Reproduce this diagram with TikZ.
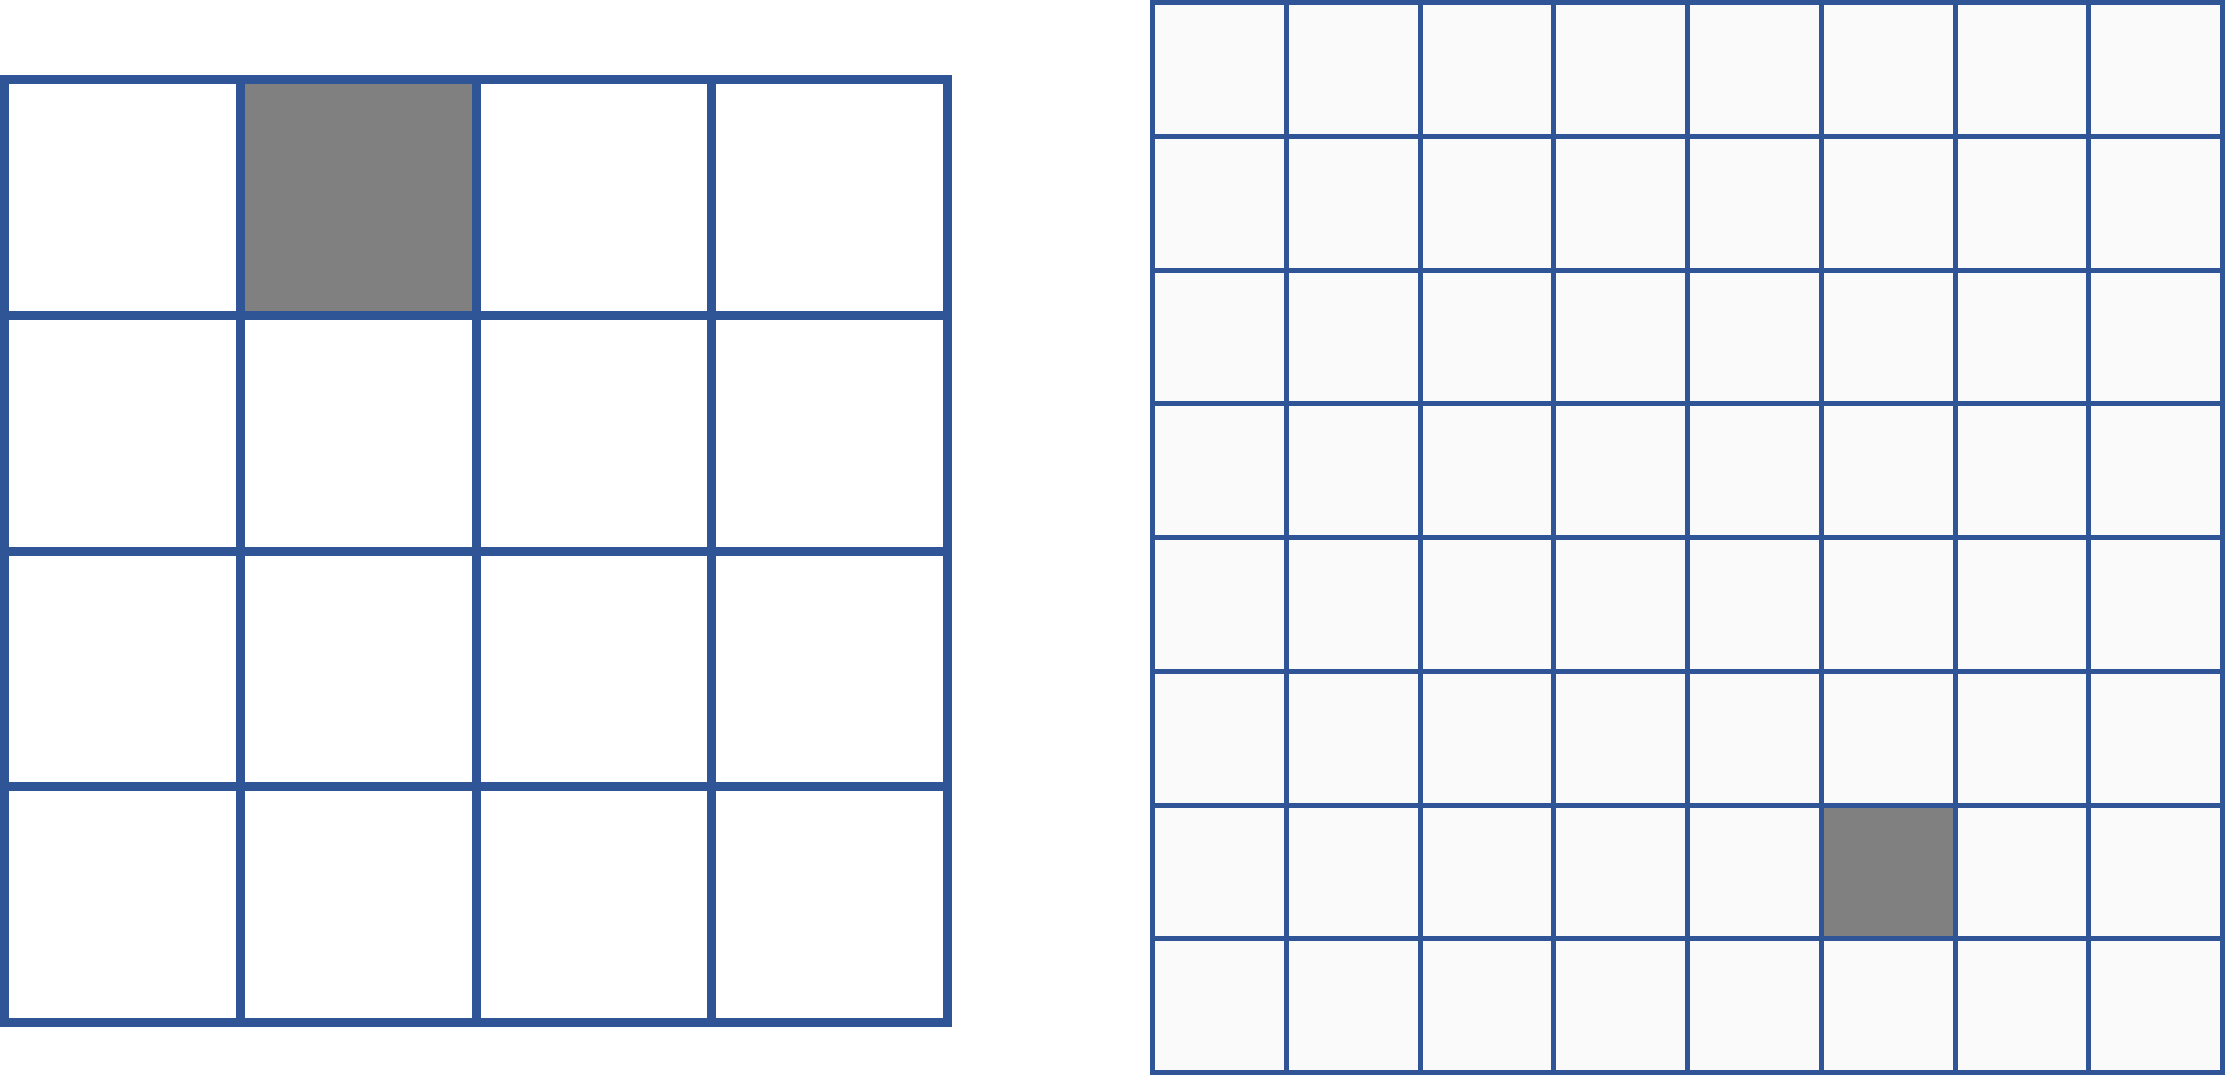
\documentclass[tikz,border=0pt]{standalone}
\definecolor{gridblue}{HTML}{2F5597}
\definecolor{cellgray}{HTML}{808080}
\definecolor{lightcell}{HTML}{FAFAFA}
\tikzset{
  biggrid/.style={draw=gridblue, line width=9pt},
  smallgrid/.style={draw=gridblue, line width=5pt},
}
\begin{document}
\begin{tikzpicture}[x=1pt,y=-1pt]
\useasboundingbox (0,0) rectangle (2226,1076);
% left 4x4 grid
\fill[cellgray] (240.25,79.5) rectangle (476,315.25);
\foreach \i in {0,...,4} {
  \draw[biggrid] ({4.5+235.75*\i},79.5) -- ({4.5+235.75*\i},1022.5);
  \draw[biggrid] (4.5,{79.5+235.75*\i}) -- (947.5,{79.5+235.75*\i});
}
\draw[biggrid, line cap=rect] (4.5,79.5) rectangle (947.5,1022.5);
% right 8x8 grid
\fill[lightcell] (1152.5,2.5) rectangle (2222.5,1072.5);
\fill[cellgray] ({1152.5+133.75*5},{2.5+133.75*6}) rectangle ({1152.5+133.75*6},{2.5+133.75*7});
\foreach \i in {0,...,8} {
  \draw[smallgrid] ({1152.5+133.75*\i},2.5) -- ({1152.5+133.75*\i},1072.5);
  \draw[smallgrid] (1152.5,{2.5+133.75*\i}) -- (2222.5,{2.5+133.75*\i});
}
\draw[smallgrid, line cap=rect] (1152.5,2.5) rectangle (2222.5,1072.5);
\end{tikzpicture}
\end{document}
